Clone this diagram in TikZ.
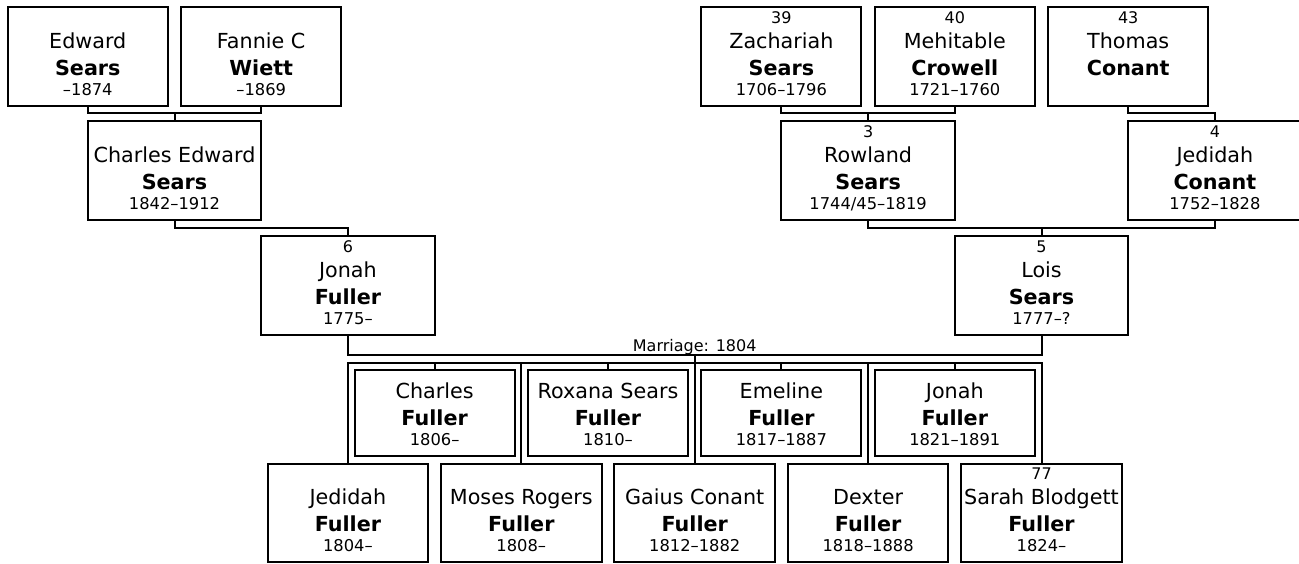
\documentclass[tikz,border=0pt]{standalone}
\usepackage{fontspec}
\setmainfont{DejaVu Sans}
\usetikzlibrary{calc}
\tikzset{
  pbx/.style={draw, line width=2pt, rectangle, inner sep=0pt, outer sep=0pt},
  conn/.style={line width=2pt},
  givn/.style={anchor=base, inner sep=0pt, font=\fontsize{20.7}{24}\selectfont},
  surn/.style={anchor=base, inner sep=0pt, font=\fontsize{20.7}{24}\selectfont\bfseries},
  dtxt/.style={anchor=base, inner sep=0pt, font=\fontsize{16.3}{19}\selectfont},
  numl/.style={anchor=base, inner sep=0pt, font=\fontsize{16}{19}\selectfont},
}
\newcommand\pbox[9]{%
  \node[pbx, minimum width=#4pt, minimum height=#5pt, anchor=north] (#1) at (#2,-#3) {};
  \if\relax\detokenize{#6}\relax\else\node[numl] (#1n) at ($(#1.south)+(0,82.7)$) {#6};\fi
  \node[givn] (#1g) at ($(#1.south)+(0,57.3)$) {#7};
  \node[surn] (#1s) at ($(#1.south)+(0,31)$) {#8};
  \if\relax\detokenize{#9}\relax\else\node[dtxt] (#1d) at ($(#1.south)+(0,11)$) {#9};\fi
}
\begin{document}
\begin{tikzpicture}[x=1pt,y=1pt]
\useasboundingbox (0,0) rectangle (1299,-563);
% generation 1
\pbox{edw}{87.8}{7}{160}{99}{}{Edward}{Sears}{\textendash1874}
\pbox{fan}{261.2}{7}{160}{99}{}{Fannie C}{Wiett}{\textendash1869}
\pbox{zac}{781.4}{7}{160}{99}{39}{Zachariah}{Sears}{1706\textendash1796}
\pbox{meh}{954.8}{7}{160}{99}{40}{Mehitable}{Crowell}{1721\textendash1760}
\pbox{tho}{1128.2}{7}{160}{99}{43}{Thomas}{Conant}{}
% generation 2
\pbox{cew}{174.5}{121}{173.5}{99}{}{Charles Edward}{Sears}{1842\textendash1912}
\pbox{row}{868.1}{121}{174}{99}{3}{Rowland}{Sears}{1744/45\textendash1819}
\pbox{jdc}{1214.9}{121}{174}{99}{4}{Jedidah}{Conant}{1752\textendash1828}
% generation 3
\pbox{jon}{347.9}{236}{174}{99}{6}{Jonah}{Fuller}{1775\textendash}
\pbox{loi}{1041.5}{236}{173}{99}{5}{Lois}{Sears}{1777\textendash?}
% children, upper row
\pbox{cha}{434.6}{370}{160}{86}{}{Charles}{Fuller}{1806\textendash}
\pbox{rox}{608}{370}{160}{86}{}{Roxana Sears}{Fuller}{1810\textendash}
\pbox{eme}{781.4}{370}{160}{86}{}{Emeline}{Fuller}{1817\textendash1887}
\pbox{jjr}{954.8}{370}{160}{86}{}{Jonah}{Fuller}{1821\textendash1891}
% children, lower row
\pbox{jed}{347.9}{463.5}{160.6}{98.5}{}{Jedidah}{Fuller}{1804\textendash}
\pbox{mos}{521.3}{463.5}{160.6}{98.5}{}{Moses Rogers}{Fuller}{1808\textendash}
\pbox{gai}{694.7}{463.5}{160.6}{98.5}{}{Gaius Conant}{Fuller}{1812\textendash1882}
\pbox{dex}{868.1}{463.5}{160.6}{98.5}{}{Dexter}{Fuller}{1818\textendash1888}
\pbox{sar}{1041.5}{463.5}{160.6}{98.5}{77}{Sarah Blodgett}{Fuller}{1824\textendash}
% connectors
\coordinate (c1) at (174.5,-113.3);
\draw[conn] (edw.south) |- (c1) -| (fan.south);
\draw[conn] (c1) -- (cew.north);
\coordinate (c2) at (347.9,-228);
\draw[conn] (cew.south) |- (c2) -- (jon.north);
\coordinate (c3) at (868.1,-113.3);
\draw[conn] (zac.south) |- (c3) -| (meh.south);
\draw[conn] (c3) -- (row.north);
\coordinate (c4) at (1214.9,-113.3);
\draw[conn] (tho.south) |- (c4) -- (jdc.north);
\coordinate (c5) at (1041.5,-228);
\draw[conn] (row.south) |- (c5) -| (jdc.south);
\draw[conn] (c5) -- (loi.north);
\coordinate (mj) at (694.7,-355);
\draw[conn] (jon.south) |- (mj) -| (loi.south);
\node[numl] (mlab) at (694.7,-351) {Marriage: 1804};
\coordinate (sb) at (694.7,-362.5);
\draw[conn] (mj) -- (sb);
\draw[conn] (jed.north) |- (sb) -| (sar.north);
\foreach \k in {mos,gai,dex,cha,rox,eme,jjr}{
  \draw[conn] (\k.north) -- (\k.north |- sb);
}
\end{tikzpicture}
\end{document}
